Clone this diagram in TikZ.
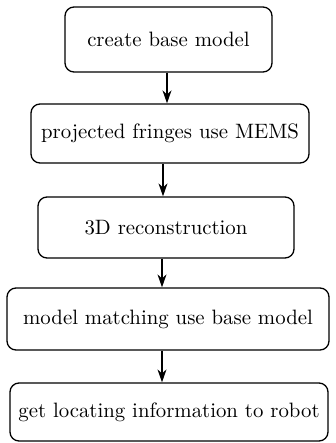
\documentclass[tikz,border=0pt]{standalone}
\usetikzlibrary{arrows.meta}
\begin{document}
\begin{tikzpicture}[x=0.5pt,y=-0.5pt,
  stepbox/.style={draw, line width=0.65pt, rounded corners=4.5pt, inner sep=0pt,
    font=\fontsize{10.4}{13}\selectfont},
  flow/.style={line width=0.65pt, -{Stealth[length=6.5pt,width=4.5pt]}}]
  \useasboundingbox (0,0) rectangle (336,443);
  \node[stepbox, minimum width=103.5pt, minimum height=32.5pt] (b1) at (168.5,39.5) {create base model};
  \node[stepbox, minimum width=139pt, minimum height=29.5pt] (b2) at (170,133.5) {projected fringes use MEMS};
  \node[stepbox, minimum width=128pt, minimum height=30.5pt] (b3) at (166,227.5) {3D reconstruction};
  \node[stepbox, minimum width=161pt, minimum height=31pt] (b4) at (168,319) {model matching use base model};
  \node[stepbox, minimum width=159pt, minimum height=29pt] (b5) at (169,412) {get locating information to robot};
  \draw[flow] ([xshift=-0.75pt]b1.south) -- ([xshift=-0.75pt]b1.south |- b2.north);
  \draw[flow] ([xshift=-3.5pt]b2.south) -- ([xshift=-3.5pt]b2.south |- b3.north);
  \draw[flow] ([xshift=-2pt]b3.south) -- ([xshift=-2pt]b3.south |- b4.north);
  \draw[flow] ([xshift=-3pt]b4.south) -- ([xshift=-3pt]b4.south |- b5.north);
\end{tikzpicture}
\end{document}
